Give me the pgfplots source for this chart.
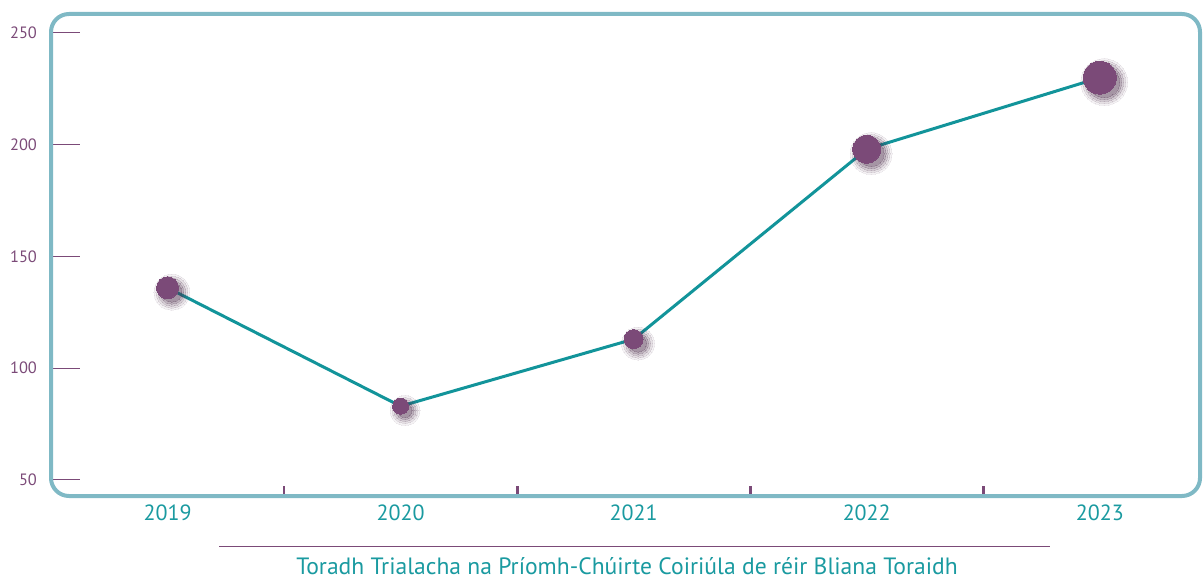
\documentclass[border=0pt]{standalone}
\usepackage{fontspec}
\setmainfont{PT Sans}
\usepackage{pgfplots}
\usepackage{pgfplotstable}
\pgfplotsset{compat=1.18}
\definecolor{framec}{HTML}{7FB9C5}
\definecolor{linec}{HTML}{12949A}
\definecolor{markc}{HTML}{7B4A78}
\definecolor{tickc}{HTML}{7B4A78}
\definecolor{labc}{HTML}{1A9AA0}
\definecolor{shadc}{HTML}{4A2A48}
\pgfplotstableread{
x y r
0 136 5.5
1 83 4
2 113 4.75
3 198 7
4 230 8.25
}\data
\pgfplotsset{
  shadowlayer/.style 2 args={only marks, mark=*,
    mark options={draw=shadc, fill=shadc, opacity=#2, line width=0pt},
    visualization depends on={\thisrow{r}+#1 \as \rr},
    scatter, scatter/use mapped color={draw=shadc, fill=shadc},
    scatter/@pre marker code/.append style={/tikz/mark size=\rr, /tikz/xshift=2.2pt, /tikz/yshift=-2.2pt}},
}
\begin{document}
\begin{tikzpicture}
\useasboundingbox (-25.5pt,-41pt) rectangle (576pt,248pt);
\begin{axis}[
  at={(0,0)}, anchor=south west,
  scale only axis, width=574.5pt, height=241pt,
  xmin=-0.5, xmax=4.43, ymin=42.8, ymax=258.5,
  axis line style={draw=none},
  tick align=inside,
  xtick={0,1,2,3,4},
  xticklabels={2019,2020,2021,2022,2023},
  minor xtick={0.5,1.5,2.5,3.5},
  ytick={50,100,150,200,250},
  xtick pos=bottom, ytick pos=left,
  major tick length=14.5pt,
  minor tick length=5pt,
  major x tick style={draw=none},
  minor x tick style={draw=tickc, line width=1.4pt},
  major y tick style={draw=tickc, line width=0.5pt},
  xticklabel style={font=\fontsize{11}{12}\selectfont, text=labc, yshift=-1pt},
  yticklabel style={font=\fontsize{8.2}{9}\selectfont, text=tickc, xshift=-3.5pt},
  /pgf/number format/assume math mode=true,
  clip=false,
]
\addplot[shadowlayer={3.5}{0.06}] table[x=x, y=y, meta=y]{\data};
\addplot[shadowlayer={2.5}{0.09}] table[x=x, y=y, meta=y]{\data};
\addplot[shadowlayer={1.5}{0.12}] table[x=x, y=y, meta=y]{\data};
\addplot[shadowlayer={0.5}{0.16}] table[x=x, y=y, meta=y]{\data};
\addplot[shadowlayer={-0.5}{0.2}] table[x=x, y=y, meta=y]{\data};
\addplot[linec, line width=1.5pt] table[x=x, y=y]{\data};
\addplot[only marks, mark=*,
  mark options={draw=markc, fill=markc, line width=0pt},
  visualization depends on={\thisrow{r} \as \rr},
  scatter, scatter/use mapped color={draw=markc, fill=markc},
  scatter/@pre marker code/.append style={/tikz/mark size=\rr}]
  table[x=x, y=y, meta=y]{\data};
\end{axis}
\draw[framec, line width=2pt, rounded corners=9pt] (0,0) rectangle (574.5pt,241pt);
\draw[tickc, line width=0.5pt] (84pt,-25pt) -- (499.5pt,-25pt);
\node[text=labc, font=\fontsize{11.8}{13}\selectfont, anchor=base] at (288pt,-39pt) {Toradh Trialacha na Príomh-Chúirte Coiriúla de réir Bliana Toraidh};
\end{tikzpicture}
\end{document}
